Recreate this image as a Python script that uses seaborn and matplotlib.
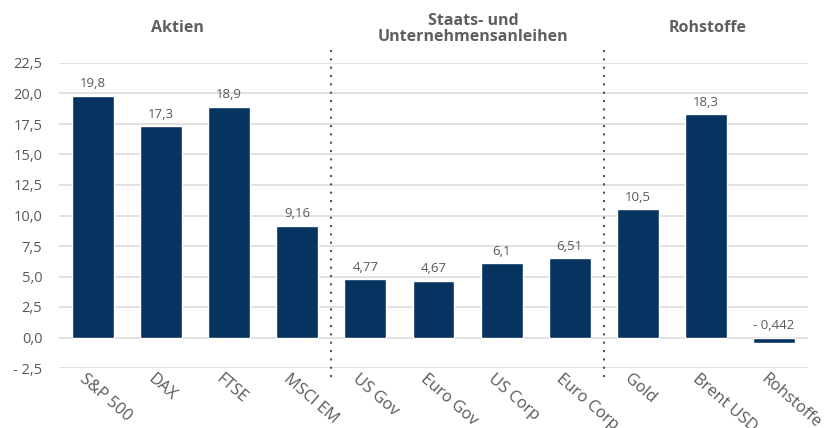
import matplotlib
matplotlib.use("Agg")
import matplotlib.pyplot as plt
import matplotlib.transforms as mtransforms
import pandas as pd
import seaborn as sns

categories = ["S&P 500", "DAX", "FTSE", "MSCI EM", "US Gov", "Euro Gov",
              "US Corp", "Euro Corp", "Gold", "Brent USD", "Rohstoffe"]
values = [19.8, 17.3, 18.9, 9.16, 4.77, 4.67, 6.1, 6.51, 10.5, 18.3, -0.442]
value_labels = ["19,8", "17,3", "18,9", "9,16", "4,77", "4,67", "6,1", "6,51",
                "10,5", "18,3", "- 0,442"]
y_ticks = [-2.5, 0.0, 2.5, 5.0, 7.5, 10.0, 12.5, 15.0, 17.5, 20.0, 22.5]
y_tick_labels = ["- 2,5", "0,0", "2,5", "5,0", "7,5", "10,0", "12,5",
                 "15,0", "17,5", "20,0", "22,5"]
group_titles = ["Aktien", "Staats- und\nUnternehmensanleihen", "Rohstoffe"]
group_breaks = [3.5, 7.5]

BAR = "#06335F"
TXT = "#595959"

sns.set_theme(style="white")
plt.rcParams["font.family"] = ["Open Sans", "DejaVu Sans"]

df = pd.DataFrame({"cat": categories, "val": values})

fig = plt.figure(figsize=(8.32, 4.28), dpi=100)
ax = fig.add_axes([59 / 832, 1 - 368 / 428, (808 - 59) / 832, (368 - 63) / 428])

sns.barplot(data=df, x="cat", y="val", color=BAR, saturation=1, width=0.615, ax=ax, zorder=3)

ax.set_ylim(-2.5, 22.5)
ax.set_yticks(y_ticks)
ax.set_yticklabels(y_tick_labels)
ax.yaxis.grid(True, color="#d9d9d9", linewidth=1.1, zorder=0)
ax.set_axisbelow(True)
for s in ax.spines.values():
    s.set_visible(False)
ax.tick_params(axis="y", length=0, colors=TXT, labelsize=10.5, pad=12)
ax.tick_params(axis="x", length=0, colors=TXT, labelsize=11.8)
ax.set_xlabel("")
ax.set_ylabel("")

offset = mtransforms.ScaledTranslation(-6 / 100, 2 / 100, fig.dpi_scale_trans)
for lbl in ax.get_xticklabels():
    lbl.set_rotation(-41)
    lbl.set_ha("left")
    lbl.set_va("top")
    lbl.set_rotation_mode("anchor")
    lbl.set_transform(lbl.get_transform() + offset)

# data labels
for patch, txt, v in zip(ax.patches, value_labels, values):
    x = patch.get_x() + patch.get_width() / 2
    ax.annotate(txt, (x, max(v, 0)), xytext=(0, 4), textcoords="offset points",
                ha="center", va="bottom", fontsize=9.5, color=TXT)

# dotted separators
trans = mtransforms.blended_transform_factory(ax.transData, fig.transFigure)
for xb in group_breaks:
    ax.plot([xb, xb], [1 - 50 / 428, 1 - 378 / 428], transform=trans, color="#555555",
            linestyle=(0, (1, 3)), linewidth=1.5, clip_on=False, zorder=4)

ax.set_xlim(-0.5, len(categories) - 0.5)

# group headings
fig.text(177 / 832, 1 - 28 / 428, group_titles[0], ha="center", va="center",
         fontsize=11.5, fontweight="bold", color="#5f5f5f")
fig.text(473 / 832, 1 - 29 / 428, group_titles[1], ha="center", va="center",
         fontsize=11.5, fontweight="bold", color="#5f5f5f", linespacing=1.0)
fig.text(708 / 832, 1 - 28 / 428, group_titles[2], ha="center", va="center",
         fontsize=11.5, fontweight="bold", color="#5f5f5f")

fig.savefig("out.png", dpi=100)
